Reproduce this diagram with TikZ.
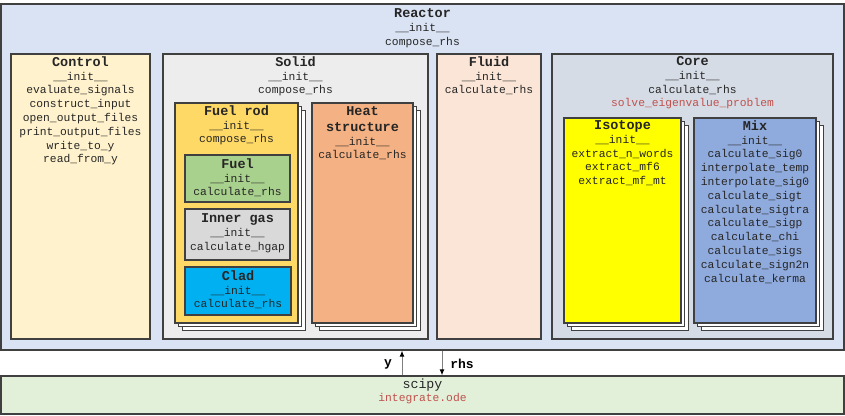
\documentclass[tikz,border=0pt]{standalone}
\usepackage{fontspec}
\setmonofont{Liberation Mono}
\usetikzlibrary{shadows,arrows.meta}
\definecolor{bord}{HTML}{404040}
\definecolor{reactorc}{HTML}{DAE3F3}
\definecolor{controlc}{HTML}{FFF2CC}
\definecolor{solidc}{HTML}{EDEDED}
\definecolor{fluidc}{HTML}{FBE5D6}
\definecolor{corec}{HTML}{D6DCE5}
\definecolor{fuelrodc}{HTML}{FFD966}
\definecolor{heatc}{HTML}{F4B183}
\definecolor{fuelc}{HTML}{A9D18E}
\definecolor{gasc}{HTML}{D9D9D9}
\definecolor{cladc}{HTML}{00B0F0}
\definecolor{isoc}{HTML}{FFFF00}
\definecolor{mixc}{HTML}{8FAADC}
\definecolor{scipyc}{HTML}{E2F0D9}
\definecolor{redt}{HTML}{C0504D}
\definecolor{arrowc}{HTML}{808080}
\newcommand\ttl[1]{{\bfseries\fontsize{13.5}{14}\selectfont #1}}
\newcommand\rd[1]{\textcolor{redt}{#1}}
\tikzset{
  box/.style={rectangle, draw=bord, line width=1.3pt, inner sep=0pt},
  stack/.style={copy shadow={shadow xshift=7pt, shadow yshift=-7pt, draw=bord, fill=white, line width=1pt},
                copy shadow={shadow xshift=3.5pt, shadow yshift=-3.5pt, draw=bord, fill=white, line width=1pt}},
  txt/.style={anchor=north, align=center, inner sep=0pt, font=\ttfamily\fontsize{11.3}{13.8}\selectfont, text=black!85},
  flow/.style={draw=arrowc, line width=1pt, -{Latex[length=6pt,width=5pt,black]}},
  lbl/.style={font=\ttfamily\bfseries\fontsize{13}{14}\selectfont, inner sep=0pt}
}
\begin{document}
\begin{tikzpicture}[x=1pt,y=-1pt]
\useasboundingbox (0,0) rectangle (845,415);
% outer boxes
\node[box, fill=reactorc, minimum width=843pt, minimum height=346pt] (reactor) at (422.5,177) {};
\node[txt] (reactor-t) at ([yshift=-5pt]reactor.north) {\ttl{Reactor}\\\_\_init\_\_\\compose\_rhs};

\node[box, fill=controlc, minimum width=139pt, minimum height=285pt] (control) at (80.5,196.5) {};
\node[txt] (control-t) at ([yshift=-3pt]control.north) {\ttl{Control}\\\_\_init\_\_\\evaluate\_signals\\construct\_input\\open\_output\_files\\print\_output\_files\\write\_to\_y\\read\_from\_y};

\node[box, fill=solidc, minimum width=265pt, minimum height=285pt] (solid) at (295.5,196.5) {};
\node[txt] (solid-t) at ([yshift=-3pt]solid.north) {\ttl{Solid}\\\_\_init\_\_\\compose\_rhs};

\node[box, fill=fluidc, minimum width=104pt, minimum height=285pt] (fluid) at (489,196.5) {};
\node[txt] (fluid-t) at ([yshift=-3pt]fluid.north) {\ttl{Fluid}\\\_\_init\_\_\\calculate\_rhs};

\node[box, fill=corec, minimum width=281pt, minimum height=285pt] (core) at (692.5,196.5) {};
\node[txt] (core-t) at ([yshift=-3pt]core.north) {\ttl{Core}\\\_\_init\_\_\\calculate\_rhs\\\rd{solve\_eigenvalue\_problem}};

% solid contents
\node[box, stack, fill=fuelrodc, minimum width=123pt, minimum height=220pt] (fuelrod) at (236.5,213) {};
\node[txt] (fuelrod-t) at ([yshift=-3pt]fuelrod.north) {\ttl{Fuel rod}\\\_\_init\_\_\\compose\_rhs};

\node[box, stack, fill=heatc, minimum width=101pt, minimum height=220pt] (heat) at (362.5,213) {};
\node[txt] (heat-t) at ([yshift=-4pt]heat.north) {\ttl{Heat}\\[2pt]\ttl{structure}\\\_\_init\_\_\\calculate\_rhs};

\node[box, fill=fuelc, minimum width=105pt, minimum height=47pt] (fuel) at (237.5,178.5) {};
\node[txt] (fuel-t) at ([yshift=-4pt]fuel.north) {\ttl{Fuel}\\\_\_init\_\_\\calculate\_rhs};

\node[box, fill=gasc, minimum width=105pt, minimum height=51pt] (gas) at (237.5,234.5) {};
\node[txt] (gas-t) at ([yshift=-5pt]gas.north) {\ttl{Inner gas}\\\_\_init\_\_\\calculate\_hgap};

\node[box, fill=cladc, minimum width=106pt, minimum height=48pt] (clad) at (238,291) {};
\node[txt] (clad-t) at ([yshift=-4pt]clad.north) {\ttl{Clad}\\\_\_init\_\_\\calculate\_rhs};

% core contents
\node[box, stack, fill=isoc, minimum width=117pt, minimum height=205pt] (iso) at (622.5,220.5) {};
\node[txt] (iso-t) at ([yshift=-3pt]iso.north) {\ttl{Isotope}\\\_\_init\_\_\\extract\_n\_words\\extract\_mf6\\extract\_mf\_mt};

\node[box, stack, fill=mixc, minimum width=122pt, minimum height=205pt] (mix) at (755,220.5) {};
\node[txt] (mix-t) at ([yshift=-3pt]mix.north) {\ttl{Mix}\\\_\_init\_\_\\calculate\_sig0\\interpolate\_temp\\interpolate\_sig0\\calculate\_sigt\\calculate\_sigtra\\calculate\_sigp\\calculate\_chi\\calculate\_sigs\\calculate\_sign2n\\calculate\_kerma};

% scipy
\node[box, fill=scipyc, minimum width=843pt, minimum height=38pt] (scipy) at (422.5,395) {};
\node[txt] (scipy-t) at ([yshift=-3pt]scipy.north) {{\fontsize{13.3}{14}\selectfont scipy}\\\rd{integrate.ode}};

% connectors
\coordinate (ya) at (scipy.north -| 402,0);
\coordinate (yb) at (reactor.south -| 402,0);
\coordinate (ra) at (reactor.south -| 442,0);
\coordinate (rb) at (scipy.north -| 442,0);
\draw[flow] (ya) -- (yb);
\draw[flow] (ra) -- (rb);
\node[lbl] (ylbl) at (388,364) {y};
\node[lbl] (rlbl) at (462,364) {rhs};
\end{tikzpicture}
\end{document}
